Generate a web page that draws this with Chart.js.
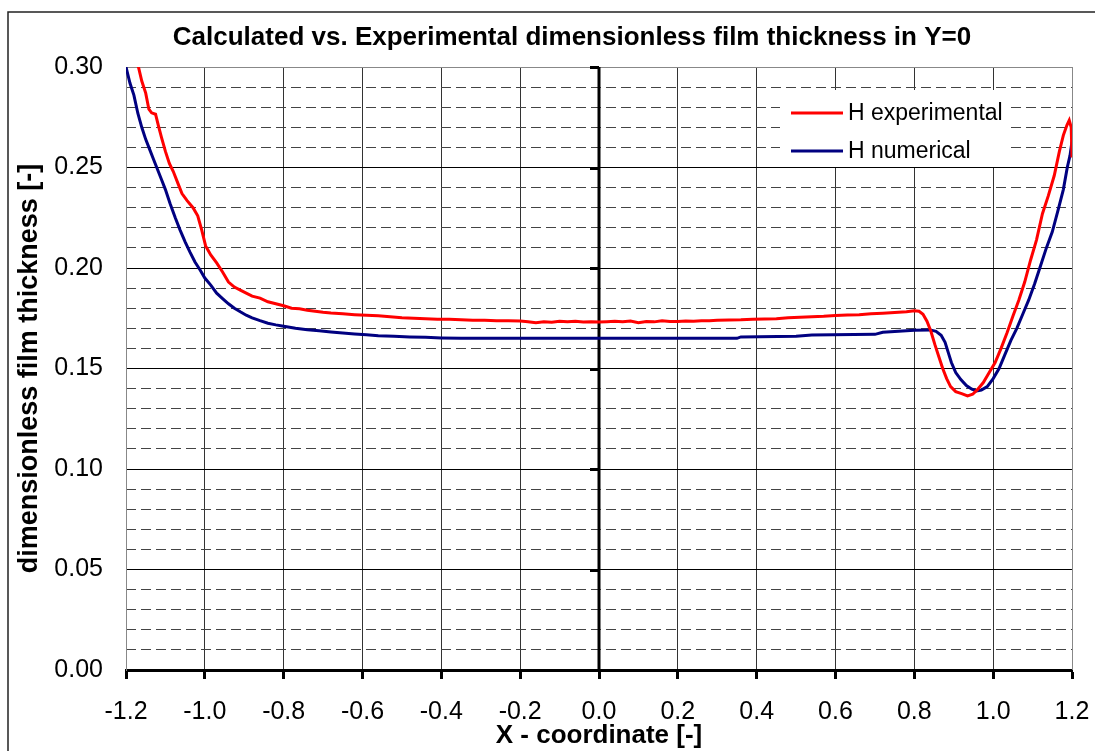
<!DOCTYPE html>
<html>
<head>
<meta charset="utf-8">
<script src="https://cdn.jsdelivr.net/npm/chart.js@4"></script>
<style>
  html, body { margin: 0; padding: 0; background: #fff; }
  #wrap { width: 1095px; height: 751px; position: relative; }
</style>
</head>
<body>
<div id="wrap"><canvas id="filmChart" width="1095" height="751"></canvas></div>
<script>
// X positions and H values
var expX = [-1.172, -1.160, -1.150, -1.142, -1.135, -1.125, -1.118, -1.110, -1.100, -1.090,
    -1.080, -1.068, -1.058, -1.045, -1.030, -1.018, -1.008, -0.998, -0.985, -0.970,
    -0.955, -0.940, -0.925, -0.910, -0.895, -0.880, -0.860, -0.840, -0.820, -0.800,
    -0.780, -0.760, -0.740, -0.720, -0.700, -0.680, -0.650, -0.620, -0.590, -0.560,
    -0.530, -0.500, -0.470, -0.440, -0.410, -0.380, -0.350, -0.320, -0.290, -0.260,
    -0.230, -0.200, -0.180, -0.160, -0.140, -0.120, -0.100, -0.080, -0.060, -0.040,
    -0.020, 0.000, 0.020, 0.040, 0.060, 0.080, 0.100, 0.120, 0.140, 0.160,
    0.180, 0.200, 0.220, 0.240, 0.260, 0.280, 0.300, 0.330, 0.360, 0.390,
    0.420, 0.450, 0.480, 0.510, 0.540, 0.570, 0.600, 0.630, 0.660, 0.690,
    0.720, 0.750, 0.780, 0.800, 0.812, 0.822, 0.832, 0.842, 0.852, 0.862,
    0.872, 0.882, 0.892, 0.905, 0.920, 0.935, 0.948, 0.960, 0.975, 0.990,
    1.005, 1.020, 1.035, 1.050, 1.065, 1.080, 1.095, 1.110, 1.125, 1.140,
    1.155, 1.168, 1.178, 1.187, 1.193, 1.198, 1.200];
var expH = [0.303, 0.293, 0.287, 0.279, 0.2772, 0.2765, 0.271, 0.265, 0.258, 0.252,
    0.248, 0.242, 0.237, 0.2335, 0.230, 0.226, 0.219, 0.211, 0.2065, 0.2025,
    0.198, 0.193, 0.1905, 0.189, 0.1875, 0.1860, 0.1850, 0.1832, 0.1822, 0.1812,
    0.1800, 0.1797, 0.1790, 0.1785, 0.1780, 0.1776, 0.1772, 0.1768, 0.1765, 0.1762,
    0.1757, 0.1752, 0.1750, 0.1748, 0.1745, 0.1745, 0.1742, 0.1740, 0.1740, 0.1737,
    0.1738, 0.1736, 0.1733, 0.1728, 0.1732, 0.1730, 0.1735, 0.1733, 0.1735, 0.1731,
    0.1733, 0.1731, 0.1733, 0.1735, 0.1733, 0.1736, 0.1728, 0.1734, 0.1732, 0.1737,
    0.1734, 0.1734, 0.1736, 0.1735, 0.1738, 0.1738, 0.1740, 0.1741, 0.1742, 0.1745,
    0.1746, 0.1748, 0.1752, 0.1755, 0.1758, 0.1760, 0.1764, 0.1766, 0.1768, 0.1772,
    0.1775, 0.1778, 0.1782, 0.1787, 0.1785, 0.1770, 0.1735, 0.1685, 0.1620, 0.1560,
    0.1500, 0.1450, 0.1410, 0.1385, 0.1375, 0.1364, 0.1372, 0.1395, 0.1430, 0.1480,
    0.1530, 0.1600, 0.1677, 0.1760, 0.1840, 0.1930, 0.2040, 0.2140, 0.2270, 0.2360,
    0.2460, 0.2580, 0.2660, 0.2710, 0.2735, 0.2700, 0.2550];

var numX = [-1.200, -1.190, -1.180, -1.170, -1.160, -1.150, -1.140, -1.130, -1.120, -1.110,
    -1.100, -1.088, -1.075, -1.063, -1.050, -1.038, -1.025, -1.012, -1.000, -0.985,
    -0.970, -0.955, -0.940, -0.925, -0.910, -0.895, -0.880, -0.860, -0.840, -0.820,
    -0.800, -0.770, -0.740, -0.710, -0.680, -0.650, -0.620, -0.590, -0.560, -0.520,
    -0.480, -0.440, -0.400, -0.350, 0.350, 0.360, 0.500, 0.540, 0.700, 0.720,
    0.800, 0.840, 0.855, 0.868, 0.878, 0.886, 0.894, 0.905, 0.918, 0.932,
    0.946, 0.958, 0.970, 0.985, 1.000, 1.015, 1.030, 1.045, 1.060, 1.075,
    1.090, 1.105, 1.120, 1.135, 1.150, 1.165, 1.178, 1.188, 1.195, 1.200];
var numH = [0.300, 0.292, 0.286, 0.277, 0.270, 0.264, 0.259, 0.254, 0.249, 0.244,
    0.239, 0.232, 0.225, 0.219, 0.213, 0.208, 0.203, 0.199, 0.195, 0.1915,
    0.1875, 0.1848, 0.1822, 0.1800, 0.1782, 0.1765, 0.1752, 0.1738, 0.1725, 0.1717,
    0.1710, 0.1700, 0.1693, 0.1688, 0.1682, 0.1677, 0.1672, 0.1668, 0.1663, 0.1660,
    0.1657, 0.1655, 0.1652, 0.1650, 0.1650, 0.1657, 0.1660, 0.1667, 0.1670, 0.1680,
    0.1690, 0.1692, 0.1685, 0.1665, 0.1630, 0.1580, 0.1530, 0.1480, 0.1445, 0.1415,
    0.1397, 0.1388, 0.1393, 0.1410, 0.1450, 0.1500, 0.1570, 0.1640, 0.1700, 0.1770,
    0.1840, 0.1920, 0.2010, 0.2100, 0.2180, 0.2290, 0.2390, 0.2500, 0.2560, 0.2630];

var seriesNames = ['H experimental', 'H numerical'];
var seriesColors = ['#ff0000', '#000080'];

var xMin = -1.2, xMax = 1.2, xStep = 0.2;
var yMin = 0, yMax = 0.30, yStep = 0.05, yMinorStep = 0.01;

var chartTitle = 'Calculated vs. Experimental dimensionless film thickness in Y=0';
var xTitle = 'X - coordinate [-]';
var yTitle = 'dimensionless film thickness [-]';

var FONT = '"Liberation Sans", Arial, sans-serif';

function toPoints(xs, ys) {
    return xs.map(function (x, i) { return { x: x, y: ys[i] }; });
}

function isMultiple(v, step) {
    var r = v / step;
    return Math.abs(r - Math.round(r)) < 1e-6;
}

// white page, outer frame and the chart title
var framePlugin = {
    id: 'frame',
    beforeDraw: function (chart, args, opts) {
        var ctx = chart.ctx;
        ctx.save();
        ctx.fillStyle = '#fff';
        ctx.fillRect(0, 0, chart.width, chart.height);
        ctx.strokeStyle = '#222';
        ctx.lineWidth = 1.5;
        ctx.beginPath();
        ctx.moveTo(8, chart.height);
        ctx.lineTo(8, 12);
        ctx.lineTo(chart.width, 12);
        ctx.stroke();
        ctx.fillStyle = '#000';
        ctx.font = 'bold 26px ' + FONT;
        ctx.textAlign = 'center';
        ctx.textBaseline = 'middle';
        ctx.fillText(opts.text, opts.x, opts.y);
        ctx.restore();
    }
};

// thick axis at X=0 with its tick marks, plus the right plot border
var centerAxisPlugin = {
    id: 'centerAxis',
    beforeDatasetsDraw: function (chart) {
        var ctx = chart.ctx;
        var area = chart.chartArea;
        var xs = chart.scales.x;
        var ys = chart.scales.y;
        var x0 = xs.getPixelForValue(0);
        ctx.save();
        ctx.strokeStyle = '#888';
        ctx.lineWidth = 1;
        ctx.beginPath();
        ctx.moveTo(area.right + 0.5, area.bottom);
        ctx.lineTo(area.right + 0.5, area.top);
        ctx.stroke();
        ctx.strokeStyle = '#000';
        ctx.lineWidth = 3;
        ctx.beginPath();
        ctx.moveTo(x0, area.top);
        ctx.lineTo(x0, area.bottom);
        ys.ticks.forEach(function (t) {
            if (t.value <= yMin) { return; }
            var py = Math.round(ys.getPixelForValue(t.value)) + 0.5;
            ctx.moveTo(x0 - 9, py);
            ctx.lineTo(x0, py);
        });
        ctx.stroke();
        ctx.restore();
    }
};

// legend box drawn inside the plot area, like the reference
var boxLegendPlugin = {
    id: 'boxLegend',
    afterDatasetsDraw: function (chart, args, opts) {
        var ctx = chart.ctx;
        ctx.save();
        ctx.fillStyle = '#fff';
        ctx.fillRect(opts.left, opts.top, opts.width, opts.height);
        ctx.font = '23px ' + FONT;
        ctx.textBaseline = 'middle';
        ctx.textAlign = 'left';
        chart.data.datasets.forEach(function (ds, i) {
            var y = opts.firstRow + i * opts.rowGap;
            ctx.strokeStyle = ds.borderColor;
            ctx.lineWidth = 3;
            ctx.beginPath();
            ctx.moveTo(opts.left + 11, y);
            ctx.lineTo(opts.left + 63, y);
            ctx.stroke();
            ctx.fillStyle = '#000';
            ctx.fillText(ds.label, opts.left + 68, y + 1);
        });
        ctx.restore();
    }
};

function initChart() {
    var canvas = document.getElementById('filmChart');
    var ctx = canvas.getContext('2d');

    new Chart(ctx, {
        type: 'line',
        data: {
            datasets: [{
                label: seriesNames[0],
                data: toPoints(expX, expH),
                borderColor: seriesColors[0],
                backgroundColor: seriesColors[0],
                borderWidth: 3,
                pointRadius: 0,
                tension: 0,
                fill: false
            }, {
                label: seriesNames[1],
                data: toPoints(numX, numH),
                borderColor: seriesColors[1],
                backgroundColor: seriesColors[1],
                borderWidth: 3,
                pointRadius: 0,
                tension: 0,
                fill: false
            }]
        },
        options: {
            responsive: false,
            animation: false,
            layout: { padding: { left: 0, right: 23, top: 67, bottom: 0 } },
            plugins: {
                legend: { display: false },
                tooltip: { enabled: false },
                title: { display: false },
                frame: { text: chartTitle, x: 572, y: 38 },
                boxLegend: { left: 780, top: 90, width: 230, height: 77, firstRow: 113, rowGap: 38 }
            },
            scales: {
                x: {
                    type: 'linear',
                    min: xMin,
                    max: xMax,
                    afterFit: function (scale) {
                        scale.height = 81;
                        scale.paddingLeft = 0;
                        scale.paddingRight = 0;
                    },
                    ticks: {
                        stepSize: xStep,
                        autoSkip: false,
                        color: '#000',
                        padding: 18,
                        font: { family: FONT, size: 25 },
                        callback: function (v) { return Number(v).toFixed(1); }
                    },
                    grid: {
                        color: function (c) {
                            var v = c.tick ? c.tick.value : 0;
                            return (Math.abs(v - xMin) < 1e-6 || Math.abs(v - xMax) < 1e-6) ? '#888' : '#333';
                        },
                        lineWidth: 1,
                        drawTicks: true,
                        tickLength: 9,
                        tickWidth: 3,
                        tickColor: '#000'
                    },
                    border: { color: '#000', width: 3 },
                    title: {
                        display: true,
                        text: xTitle,
                        color: '#000',
                        font: { family: FONT, size: 26, weight: 'bold' },
                        padding: { top: 0, bottom: 0 }
                    }
                },
                yMinor: {
                    type: 'linear',
                    position: 'left',
                    min: yMin,
                    max: yMax,
                    afterFit: function (scale) { scale.width = 0; },
                    ticks: { display: false, stepSize: yMinorStep, autoSkip: false, maxTicksLimit: 100 },
                    grid: {
                        color: function (c) {
                            var v = c.tick ? c.tick.value : 0;
                            return isMultiple(v, yStep) ? 'rgba(0,0,0,0)' : '#444';
                        },
                        lineWidth: 1,
                        drawTicks: false
                    },
                    border: { display: false, dash: [10, 5] }
                },
                y: {
                    type: 'linear',
                    position: 'left',
                    min: yMin,
                    max: yMax,
                    afterFit: function (scale) { scale.width = 126; },
                    ticks: {
                        stepSize: yStep,
                        autoSkip: false,
                        color: '#000',
                        padding: 23,
                        font: { family: FONT, size: 25 },
                        callback: function (v) { return Number(v).toFixed(2); }
                    },
                    grid: {
                        color: function (c) {
                            var v = c.tick ? c.tick.value : 0;
                            return Math.abs(v - yMax) < 1e-6 ? '#888' : '#000';
                        },
                        lineWidth: 1,
                        drawTicks: false
                    },
                    border: { color: '#888', width: 1 },
                    title: {
                        display: true,
                        text: yTitle,
                        color: '#000',
                        font: { family: FONT, size: 27, weight: 'bold' },
                        padding: { top: 13, bottom: 0 }
                    }
                }
            }
        },
        plugins: [framePlugin, centerAxisPlugin, boxLegendPlugin]
    });
}

if (document.readyState === 'loading') {
    document.addEventListener('DOMContentLoaded', initChart);
} else {
    initChart();
}
</script>
</body>
</html>
